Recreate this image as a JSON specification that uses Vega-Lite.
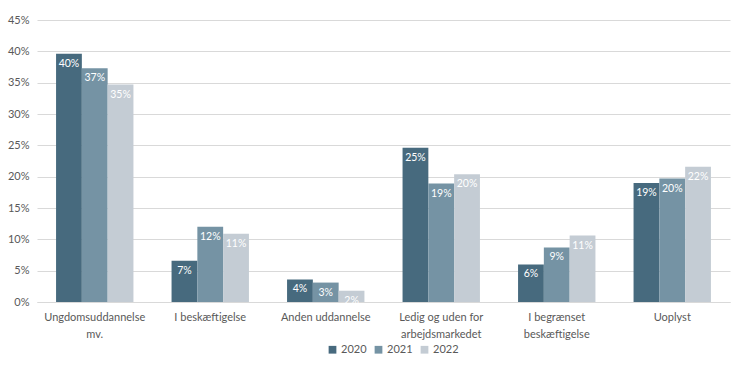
{
  "$schema": "https://vega.github.io/schema/vega-lite/v6.json",
  "width": 693,
  "height": 282,
  "autosize": "none",
  "padding": {"left": 37, "top": 20, "right": 18, "bottom": 68},
  "config": {
    "view": {"stroke": null},
    "font": "Lato",
    "axis": {"labelFont": "Lato", "labelColor": "#595959", "labelFontSize": 11},
    "legend": {"labelFont": "Lato", "labelColor": "#595959", "labelFontSize": 11}
  },
  "data": {
    "values": [
      {"kategori": "Ungdomsuddannelse mv.", "år": "2020", "andel": 0.396},
      {"kategori": "Ungdomsuddannelse mv.", "år": "2021", "andel": 0.373},
      {"kategori": "Ungdomsuddannelse mv.", "år": "2022", "andel": 0.347},
      {"kategori": "I beskæftigelse", "år": "2020", "andel": 0.066},
      {"kategori": "I beskæftigelse", "år": "2021", "andel": 0.12},
      {"kategori": "I beskæftigelse", "år": "2022", "andel": 0.109},
      {"kategori": "Anden uddannelse", "år": "2020", "andel": 0.036},
      {"kategori": "Anden uddannelse", "år": "2021", "andel": 0.031},
      {"kategori": "Anden uddannelse", "år": "2022", "andel": 0.018},
      {"kategori": "Ledig og uden for arbejdsmarkedet", "år": "2020", "andel": 0.246},
      {"kategori": "Ledig og uden for arbejdsmarkedet", "år": "2021", "andel": 0.189},
      {"kategori": "Ledig og uden for arbejdsmarkedet", "år": "2022", "andel": 0.204},
      {"kategori": "I begrænset beskæftigelse", "år": "2020", "andel": 0.06},
      {"kategori": "I begrænset beskæftigelse", "år": "2021", "andel": 0.087},
      {"kategori": "I begrænset beskæftigelse", "år": "2022", "andel": 0.106},
      {"kategori": "Uoplyst", "år": "2020", "andel": 0.19},
      {"kategori": "Uoplyst", "år": "2021", "andel": 0.197},
      {"kategori": "Uoplyst", "år": "2022", "andel": 0.216}
    ]
  },
  "encoding": {
    "x": {
      "field": "kategori",
      "type": "nominal",
      "sort": null,
      "title": null,
      "scale": {"paddingInner": 0.33, "paddingOuter": 0.165},
      "axis": {
        "labelAngle": 0,
        "ticks": false,
        "domainColor": "#d9d9d9",
        "labelPadding": 9,
        "labelLineHeight": 17,
        "labelExpr": "datum.value == 'Ungdomsuddannelse mv.' ? ['Ungdomsuddannelse','mv.'] : datum.value == 'Ledig og uden for arbejdsmarkedet' ? ['Ledig og uden for','arbejdsmarkedet'] : datum.value == 'I begrænset beskæftigelse' ? ['I begrænset','beskæftigelse'] : datum.value"
      }
    },
    "xOffset": {"field": "år", "type": "nominal"},
    "y": {
      "field": "andel",
      "type": "quantitative",
      "title": null,
      "scale": {"domain": [0, 0.45], "nice": false},
      "axis": {
        "format": ".0%",
        "values": [0, 0.05, 0.1, 0.15, 0.2, 0.25, 0.3, 0.35, 0.4, 0.45],
        "domain": false,
        "ticks": false,
        "gridColor": "#d9d9d9",
        "labelPadding": 8
      }
    }
  },
  "layer": [
    {
      "mark": {"type": "bar"},
      "encoding": {
        "color": {
          "field": "år",
          "type": "nominal",
          "title": null,
          "scale": {"range": ["#476a7e", "#7593a4", "#c4ccd4"]},
          "legend": {"orient": "none", "legendX": 290, "legendY": 324, "direction": "horizontal", "symbolType": "square", "symbolSize": 60, "symbolStrokeWidth": 0, "columnPadding": 6, "labelOffset": 3}
        }
      }
    },
    {
      "mark": {"type": "text", "baseline": "top", "dy": 5, "color": "white", "fontSize": 10.5},
      "encoding": {
        "text": {"field": "andel", "type": "quantitative", "format": ".0%"}
      }
    }
  ]
}
